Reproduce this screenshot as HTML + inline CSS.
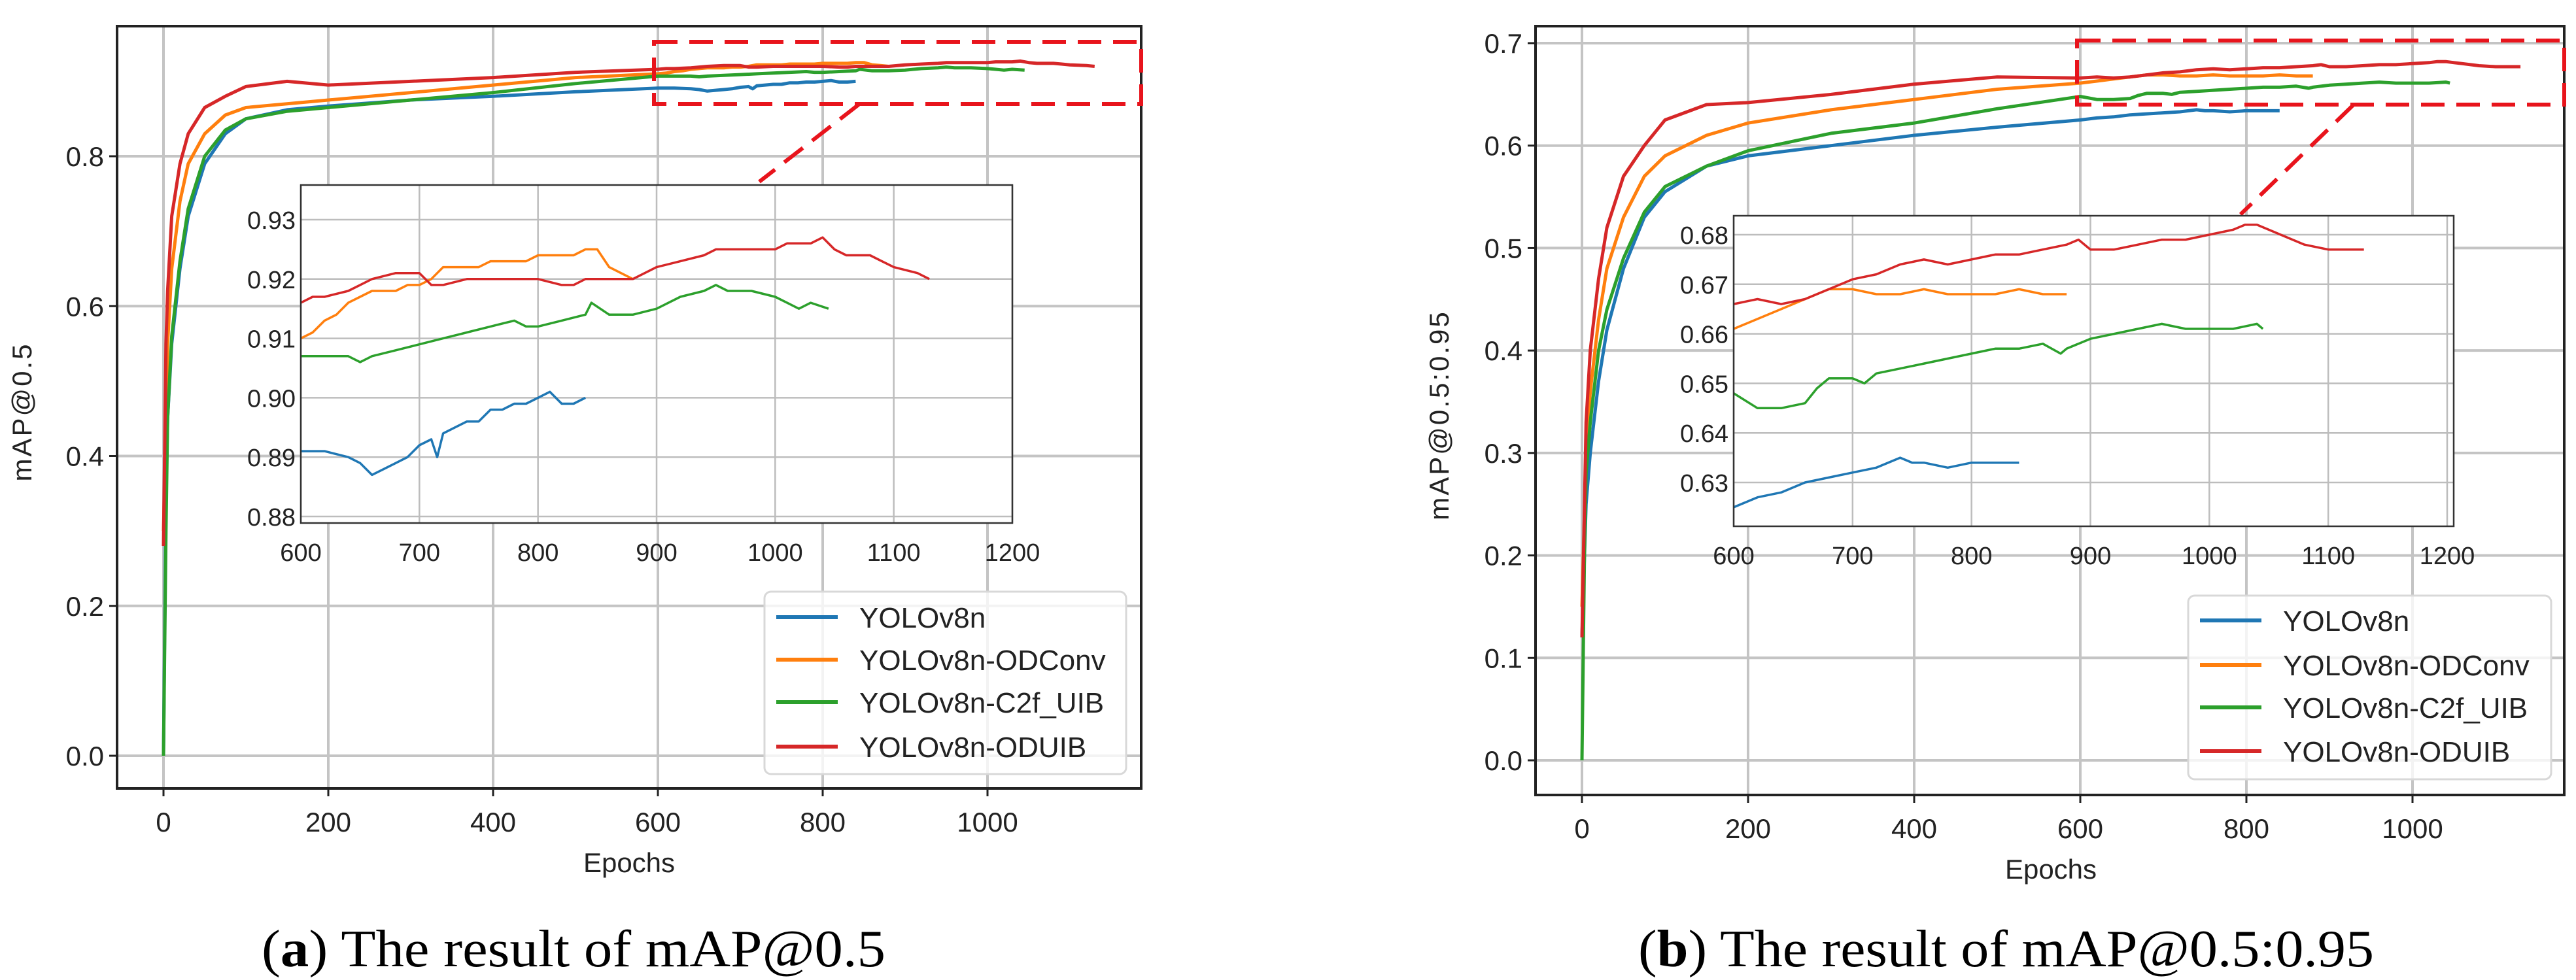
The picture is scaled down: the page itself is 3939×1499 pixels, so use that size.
<!DOCTYPE html>
<html><head><meta charset="utf-8"><style>
html,body{margin:0;padding:0;background:#fff;}
svg{display:block;}
</style></head><body>
<svg id="fig" width="3939" height="1499" viewBox="0 0 3939 1499" xmlns="http://www.w3.org/2000/svg" font-family="Liberation Sans, DejaVu Sans, sans-serif">
<rect width="3939" height="1499" fill="#fff"/>
<g id="chartA"></g>
<g id="chartB"></g>
<text x="400" y="1478" font-family="Liberation Serif, serif" font-size="80" textLength="954" lengthAdjust="spacingAndGlyphs">(<tspan font-weight="bold">a</tspan>) The result of mAP@0.5</text>
<text x="2505" y="1478" font-family="Liberation Serif, serif" font-size="80" textLength="1125" lengthAdjust="spacingAndGlyphs">(<tspan font-weight="bold">b</tspan>) The result of mAP@0.5:0.95</text>
</svg>
<script>
const seriesNames = ["YOLOv8n","YOLOv8n-ODConv","YOLOv8n-C2f_UIB","YOLOv8n-ODUIB"];
const seriesColors = ["#1f77b4","#ff7f0e","#2ca02c","#d62728"];
const aBlueX = [0,3,5,10,20,30,50,75,100,150,200,300,400,500,600,620,640,650,660,670,680,690,700,710,715,720,730,740,750,760,770,780,790,800,810,820,830,840];
const aBlueY = [0.0,0.35,0.45,0.55,0.65,0.72,0.79,0.83,0.85,0.862,0.867,0.875,0.88,0.886,0.891,0.891,0.890,0.889,0.887,0.888,0.889,0.890,0.892,0.893,0.890,0.894,0.895,0.896,0.896,0.898,0.898,0.899,0.899,0.900,0.901,0.899,0.899,0.900];
const aOrangeX = [0,5,10,20,30,50,75,100,150,200,300,400,500,600,610,620,630,640,650,660,670,680,690,700,710,720,730,740,750,760,770,780,790,800,810,820,830,840,850,860,870,880];
const aOrangeY = [0.3,0.55,0.65,0.74,0.79,0.83,0.855,0.865,0.87,0.875,0.885,0.895,0.905,0.910,0.911,0.913,0.914,0.916,0.917,0.918,0.918,0.918,0.919,0.919,0.920,0.922,0.922,0.922,0.922,0.923,0.923,0.923,0.923,0.924,0.924,0.924,0.924,0.925,0.925,0.922,0.921,0.920];
const aGreenX = [0,3,5,10,20,30,50,75,100,150,200,300,400,500,600,620,640,650,660,680,700,720,740,760,780,790,800,820,840,845,860,880,900,920,940,950,960,980,1000,1010,1020,1030,1045];
const aGreenY = [0.0,0.3,0.45,0.56,0.66,0.73,0.80,0.835,0.85,0.86,0.865,0.875,0.885,0.897,0.907,0.907,0.907,0.906,0.907,0.908,0.909,0.910,0.911,0.912,0.913,0.912,0.912,0.913,0.914,0.916,0.914,0.914,0.915,0.917,0.918,0.919,0.918,0.918,0.917,0.916,0.915,0.916,0.915];
const aRedX = [0,3,5,10,20,30,50,75,100,150,200,300,400,500,600,610,620,640,650,660,680,690,700,710,720,740,760,780,800,820,830,840,860,880,900,920,940,950,960,980,1000,1010,1030,1040,1050,1060,1080,1090,1100,1120,1130];
const aRedY = [0.28,0.55,0.62,0.72,0.79,0.83,0.865,0.88,0.893,0.90,0.895,0.90,0.905,0.912,0.916,0.917,0.917,0.918,0.919,0.920,0.921,0.921,0.921,0.919,0.919,0.920,0.920,0.920,0.920,0.919,0.919,0.920,0.920,0.920,0.922,0.923,0.924,0.925,0.925,0.925,0.925,0.926,0.926,0.927,0.925,0.924,0.924,0.923,0.922,0.921,0.920];
const bBlueX = [0,5,10,20,30,50,75,100,150,200,300,400,500,600,620,640,660,680,700,720,740,750,760,780,800,820,840];
const bBlueY = [0.12,0.25,0.30,0.37,0.42,0.48,0.53,0.555,0.58,0.59,0.60,0.61,0.618,0.625,0.627,0.628,0.630,0.631,0.632,0.633,0.635,0.634,0.634,0.633,0.634,0.634,0.634];
const bOrangeX = [0,5,10,20,30,50,75,100,150,200,300,400,500,600,620,640,660,680,700,720,740,760,780,800,820,840,860,880];
const bOrangeY = [0.15,0.30,0.36,0.43,0.48,0.53,0.57,0.59,0.61,0.622,0.635,0.645,0.655,0.661,0.663,0.665,0.667,0.669,0.669,0.668,0.668,0.669,0.668,0.668,0.668,0.669,0.668,0.668];
const bGreenX = [0,3,5,10,20,30,50,75,100,150,200,300,400,500,600,620,640,660,670,680,700,710,720,740,760,780,800,820,840,860,875,880,900,920,940,960,980,1000,1020,1040,1045];
const bGreenY = [0.0,0.2,0.28,0.33,0.40,0.44,0.49,0.535,0.56,0.58,0.595,0.612,0.622,0.636,0.648,0.645,0.645,0.646,0.649,0.651,0.651,0.650,0.652,0.653,0.654,0.655,0.656,0.657,0.657,0.658,0.656,0.657,0.659,0.660,0.661,0.662,0.661,0.661,0.661,0.662,0.661];
const bRedX = [0,5,10,20,30,50,75,100,150,200,300,400,500,600,620,640,660,680,700,720,740,760,780,800,820,840,860,880,890,900,920,940,960,980,1000,1020,1030,1040,1050,1060,1080,1100,1120,1130];
const bRedY = [0.12,0.33,0.40,0.47,0.52,0.57,0.60,0.625,0.64,0.642,0.65,0.66,0.667,0.666,0.667,0.666,0.667,0.669,0.671,0.672,0.674,0.675,0.674,0.675,0.676,0.676,0.677,0.678,0.679,0.677,0.677,0.678,0.679,0.679,0.680,0.681,0.682,0.682,0.681,0.680,0.678,0.677,0.677,0.677];
const aTicksY = [0.0,0.2,0.4,0.6,0.8];
const bTicksY = [0.0,0.1,0.2,0.3,0.4,0.5,0.6,0.7];
const mainTicksX = [0,200,400,600,800,1000];
const insetTicksX = [600,700,800,900,1000,1100,1200];
const aInsetTicksY = [0.88,0.89,0.90,0.91,0.92,0.93];
const bInsetTicksY = [0.63,0.64,0.65,0.66,0.67,0.68];

const NS="http://www.w3.org/2000/svg";
function mk(parent,tag,attrs){const e=document.createElementNS(NS,tag);for(const k in attrs)e.setAttribute(k,attrs[k]);parent.appendChild(e);return e;}
function lin(d0,d1,r0,r1){return v=>r0+(v-d0)*(r1-r0)/(d1-d0);}

function draw(g,cfg){
  const sx=lin(cfg.xd[0],cfg.xd[1],cfg.xr[0],cfg.xr[1]), sy=lin(cfg.yd[0],cfg.yd[1],cfg.yr[0],cfg.yr[1]);
  const clipId=cfg.id+"clip";
  const defs=mk(g,"defs",{});
  const cp=mk(defs,"clipPath",{id:clipId});
  mk(cp,"rect",{x:cfg.L,y:cfg.T,width:cfg.R-cfg.L,height:cfg.B-cfg.T});
  cfg.ticksY.forEach(t=>{
    const l=mk(g,"line",{x1:cfg.L,x2:cfg.R,y1:sy(t),y2:sy(t),stroke:"#c4c4c4","stroke-width":4});
    
    
    const tk=mk(g,"line",{x1:cfg.L-12,x2:cfg.L,y1:sy(t),y2:sy(t),stroke:"#222","stroke-width":3});
    
    
    const tx=mk(g,"text",{x:cfg.L-20,y:sy(t)+15,"text-anchor":"end","font-size":42,fill:"#222"});
    tx.textContent=t.toFixed(1);
    
    
  });
  mainTicksX.forEach(t=>{
    const l=mk(g,"line",{x1:sx(t),x2:sx(t),y1:cfg.T,y2:cfg.B,stroke:"#c4c4c4","stroke-width":4});
    
    
    const tk=mk(g,"line",{x1:sx(t),x2:sx(t),y1:cfg.B,y2:cfg.B+12,stroke:"#222","stroke-width":3});
    
    
    const tx=mk(g,"text",{x:sx(t),y:cfg.B+66,"text-anchor":"middle","font-size":42,fill:"#222"});
    tx.textContent=String(t);
    
    
  });
  const lines=mk(g,"g",{"clip-path":"url(#"+clipId+")"});
  cfg.series.forEach((s,i)=>{
    const p=mk(lines,"polyline",{points:s[0].map((x,j)=>sx(x).toFixed(1)+","+sy(s[1][j]).toFixed(1)).join(" "),fill:"none",stroke:seriesColors[i],"stroke-width":5,"stroke-linejoin":"round"});
    
    
  });
  const fr=mk(g,"rect",{x:cfg.L,y:cfg.T,width:cfg.R-cfg.L,height:cfg.B-cfg.T,fill:"none",stroke:"#222","stroke-width":4});
  
  
  const xt=mk(g,"text",{x:cfg.xtx,y:cfg.B+128,"text-anchor":"middle","font-size":42,fill:"#222"});
  xt.textContent="Epochs";
  
  
  const yt=mk(g,"text",{x:0,y:0,"text-anchor":"middle","font-size":42,fill:"#222",transform:"translate("+cfg.ytx+","+cfg.yty+") rotate(-90)","letter-spacing":"3"});
  yt.textContent=cfg.ylabel;
  
  
  const zb=mk(g,"rect",{x:cfg.zb[0],y:cfg.zb[1],width:cfg.zb[2]-cfg.zb[0],height:cfg.zb[3]-cfg.zb[1],fill:"none",stroke:"#e8141c","stroke-width":6,"stroke-dasharray":"36,18"});
  
  
  const zl=mk(g,"line",{x1:cfg.zl[0],y1:cfg.zl[1],x2:cfg.zl[2],y2:cfg.zl[3],stroke:"#e8141c","stroke-width":6,"stroke-dasharray":"36,18"});
  
  
  const I=cfg.inset;
  const ix=lin(600,1200,I.x600,I.x1200), iy=lin(I.yd[0],I.yd[1],I.yr[0],I.yr[1]);
  const ig=mk(g,"g",{});
  
  
  mk(ig,"rect",{x:I.L,y:I.T,width:I.R-I.L,height:I.B-I.T,fill:"#fff"});
  const icp=mk(defs,"clipPath",{id:clipId+"i"});
  mk(icp,"rect",{x:I.L,y:I.T,width:I.R-I.L,height:I.B-I.T});
  I.ticksY.forEach(t=>{
    const l=mk(ig,"line",{x1:I.L,x2:I.R,y1:iy(t),y2:iy(t),stroke:"#bdbdbd","stroke-width":2.5});
    
    
    const tx=mk(ig,"text",{x:I.L-8,y:iy(t)+14,"text-anchor":"end","font-size":38,fill:"#222"});
    tx.textContent=t.toFixed(2);
    
    
  });
  insetTicksX.forEach(t=>{
    const l=mk(ig,"line",{x1:ix(t),x2:ix(t),y1:I.T,y2:I.B,stroke:"#bdbdbd","stroke-width":2.5});
    
    
    const tx=mk(ig,"text",{x:ix(t),y:I.B+58,"text-anchor":"middle","font-size":38,fill:"#222"});
    tx.textContent=String(t);
    
    
  });
  const il=mk(ig,"g",{"clip-path":"url(#"+clipId+"i)"});
  cfg.series.forEach((s,i)=>{
    const pts=[];s[0].forEach((x,j)=>{if(x>=600)pts.push(ix(x).toFixed(1)+","+iy(s[1][j]).toFixed(1));});
    const p=mk(il,"polyline",{points:pts.join(" "),fill:"none",stroke:seriesColors[i],"stroke-width":3.5,"stroke-linejoin":"round"});
    
    
  });
  mk(ig,"rect",{x:I.L,y:I.T,width:I.R-I.L,height:I.B-I.T,fill:"none",stroke:"#333","stroke-width":2.5});
  const Lg=cfg.legend;
  const lg=mk(g,"g",{});
  
  
  mk(lg,"rect",{x:Lg.x,y:Lg.y,width:Lg.w,height:Lg.h,rx:10,fill:"#fff","fill-opacity":0.8,stroke:"#d8d8d8","stroke-width":3});
  seriesNames.forEach((n,i)=>{
    const yy=Lg.rows[i];
    const e=mk(lg,"g",{});
    
    
    mk(e,"line",{x1:Lg.x+18,x2:Lg.x+112,y1:yy,y2:yy,stroke:seriesColors[i],"stroke-width":6});
    const t=mk(e,"text",{x:Lg.x+145,y:yy+16,"font-size":44,fill:"#222"});
    t.textContent=n;
  });
}

draw(document.getElementById("chartA"),{
  id:"a",L:179,R:1745,T:40,B:1206,xd:[0,1000],xr:[250,1510],yd:[0,0.8],yr:[1156,239],
  series:[[aBlueX,aBlueY],[aOrangeX,aOrangeY],[aGreenX,aGreenY],[aRedX,aRedY]],
  ticksY:aTicksY,ylabel:"mAP@0.5",ytx:48,yty:630,xtx:962,
  zb:[1000,64,1745,159],zl:[1313,160,1161,278],
  inset:{L:460,R:1548,T:283,B:800,x600:460,x1200:1548,yd:[0.88,0.93],yr:[790,336],ticksY:aInsetTicksY},
  legend:{x:1169,y:905,w:553,h:279,rows:[944,1009,1074,1142]}
});
draw(document.getElementById("chartB"),{
  id:"b",L:2348,R:3921,T:40,B:1216,xd:[0,1000],xr:[2419,3689],yd:[0,0.7],yr:[1163,66],
  series:[[bBlueX,bBlueY],[bOrangeX,bOrangeY],[bGreenX,bGreenY],[bRedX,bRedY]],
  ticksY:bTicksY,ylabel:"mAP@0.5:0.95",ytx:2215,yty:635,xtx:3136,
  zb:[3176,62,3921,160],zl:[3598,161,3426,328],
  inset:{L:2651,R:3752,T:330,B:805,x600:2651,x1200:3742,yd:[0.63,0.68],yr:[738,359],ticksY:bInsetTicksY},
  legend:{x:3346,y:911,w:555,h:281,rows:[949,1017,1082,1149]}
});
</script>
</body></html>
